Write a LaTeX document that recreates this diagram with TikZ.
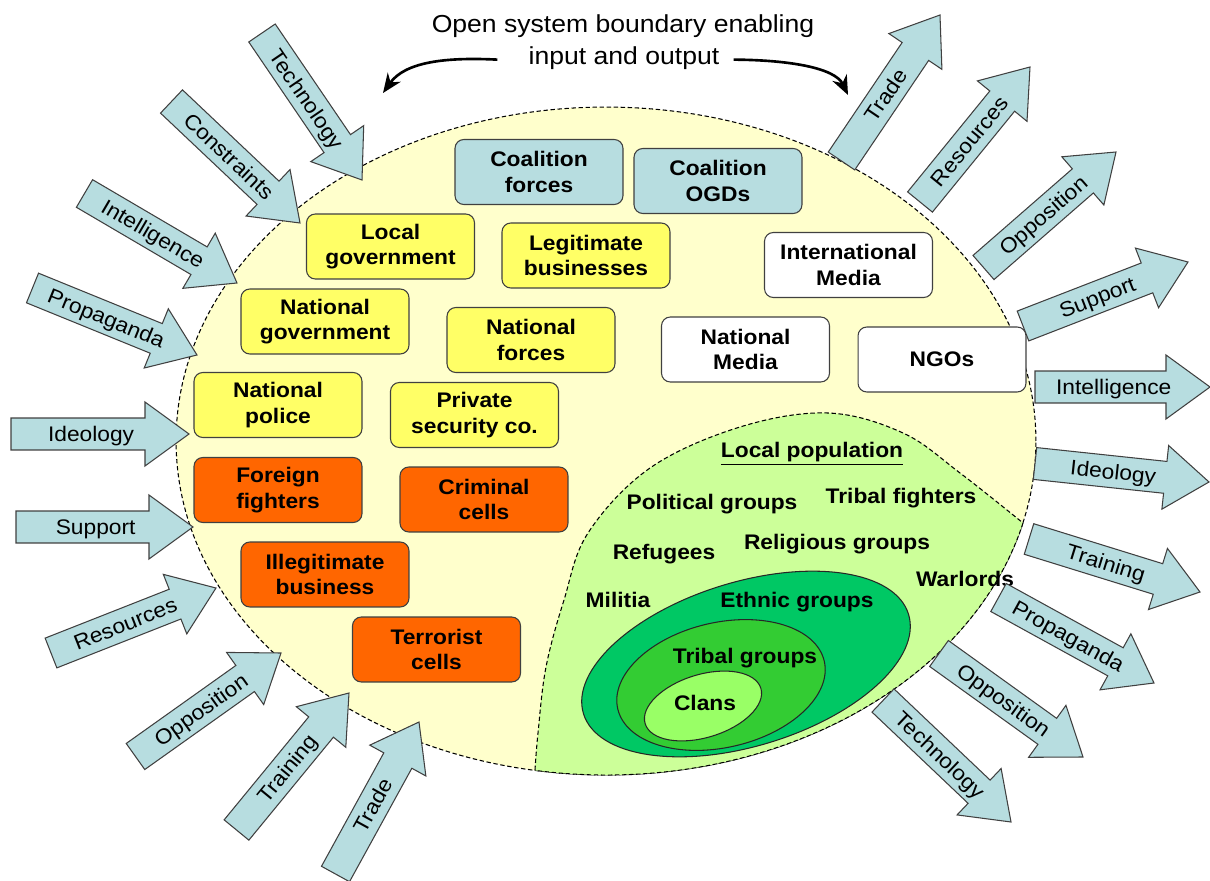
\documentclass[tikz,border=0pt]{standalone}
\usepackage{fontspec}
\setmainfont{Liberation Sans}[FakeStretch=1.08]
\usetikzlibrary{arrows.meta}
\definecolor{ybg}{HTML}{FFFFCC}
\definecolor{gbg}{HTML}{CCFF99}
\definecolor{ethnic}{HTML}{00C864}
\definecolor{tribal}{HTML}{33CC33}
\definecolor{clans}{HTML}{99FF66}
\definecolor{yelbox}{HTML}{FFFF66}
\definecolor{orbox}{HTML}{FF6600}
\definecolor{bluebox}{HTML}{B7DDE0}
\definecolor{bdr}{HTML}{404040}
\newcommand{\boxfont}{\fontsize{12}{14.6}\selectfont\bfseries}
\newcommand{\labfont}{\fontsize{12}{14.6}\selectfont}
\newcommand{\blkarrow}[6]{%
  \pgfmathsetmacro{\arAng}{atan2(#3-#5,#4-#2)}%
  \pgfmathsetmacro{\arLen}{0.02*veclen(#4-#2,#5-#3)}%
  \pgfmathsetmacro{\arHb}{\arLen-0.88}%
  \pgfmathsetmacro{\arLab}{0.45*\arLen}%
  \begin{scope}[shift={(#2,#3)},rotate=\arAng]
    \draw[blkarr] (0cm,-0.32cm) -- (\arHb cm,-0.32cm) -- (\arHb cm,-0.64cm) -- (\arLen cm,0cm) -- (\arHb cm,0.64cm) -- (\arHb cm,0.32cm) -- (0cm,0.32cm) -- cycle;
    \node[arrlab, rotate=\arAng, anchor=base] (#1) at (\arLab cm,-0.15cm) {#6};
  \end{scope}}
\begin{document}
\begin{tikzpicture}[x=0.02cm,y=-0.02cm,
  box/.style={draw=bdr, line width=0.6pt, rounded corners=5pt, minimum width=3.36cm, minimum height=1.3cm, align=center, font=\boxfont, inner sep=2pt},
  ybox/.style={box, fill=yelbox},
  obox/.style={box, fill=orbox},
  bbox/.style={box, fill=bluebox},
  wbox/.style={box, fill=white},
  blkarr/.style={draw=bdr, line width=0.6pt, fill=bluebox},
  arrlab/.style={font=\labfont, inner sep=0pt},
  grp/.style={font=\boxfont, inner sep=0pt, anchor=base},
  bound/.style={draw=black, line width=0.6pt, dash pattern=on 2.5pt off 1.5pt},
  curv/.style={line width=1.5pt, -{Stealth[length=11pt,width=9pt]}}
]
\useasboundingbox (0,0) rectangle (1210,881);

% title
\node[font=\fontsize{14}{16}\selectfont, anchor=base, inner sep=0pt] (t1) at (623,33) {Open system boundary enabling};
\node[font=\fontsize{14}{16}\selectfont, anchor=base, inner sep=0pt] (t2) at (624,65) {input and output};
\coordinate (cl) at (383,93);
\coordinate (cr) at (848,95);
\draw[curv] ([xshift=-0.62cm,yshift=-0.02cm]t2.west) .. controls (445,57) and (405,62) .. (cl);
\draw[curv] ([xshift=0.28cm,yshift=-0.02cm]t2.east) .. controls (790,60) and (835,68) .. (cr);

% system boundary
\path[bound, fill=ybg] (606,441) ellipse [x radius=8.6cm, y radius=6.68cm];

% local population region
\path[bound, fill=gbg] plot[smooth, tension=0.6] coordinates {(535,770) (538,733) (546,667) (564,600) (588,533) (650,468) (740,427) (828,413) (903,433) (960,473) (1023,523)}
  arc[start angle=-14.2, end angle=-99.5, x radius=8.6cm, y radius=6.68cm] -- cycle;

% nested groups
\draw[draw=black!85, line width=0.6pt, fill=ethnic, rotate around={17:(746,664)}] (746,664) ellipse [x radius=3.4cm, y radius=1.64cm];
\draw[draw=black!85, line width=0.6pt, fill=tribal, rotate around={13:(721,685)}] (721,685) ellipse [x radius=2.12cm, y radius=1.25cm];
\draw[draw=black!85, line width=0.6pt, fill=clans, rotate around={17:(703,706)}] (703,706) ellipse [x radius=1.21cm, y radius=0.63cm];

% boxes
\node[bbox] (cf) at (539,172) {Coalition\\forces};
\node[bbox] (cogd) at (718,181) {Coalition\\OGDs};
\node[ybox] (lg) at (390.5,246.5) {Local\\government};
\node[ybox] (lb) at (586,255.5) {Legitimate\\businesses};
\node[wbox] (im) at (848.5,265) {International\\Media};
\node[ybox] (ng) at (325,321.5) {National\\government};
\node[ybox] (nf) at (531,340) {National\\forces};
\node[wbox] (nm) at (745.5,349.5) {National\\Media};
\node[wbox] (ngo) at (942,359.5) {NGOs};
\node[ybox] (np) at (278,405) {National\\police};
\node[ybox] (ps) at (474.5,415) {Private\\security co.};
\node[obox] (ff) at (278,490) {Foreign\\fighters};
\node[obox] (cc) at (484,499.5) {Criminal\\cells};
\node[obox] (ib) at (325,574.5) {Illegitimate\\business};
\node[obox] (tc) at (436.5,649.5) {Terrorist\\cells};

% local population labels
\node[grp] (lp) at (812,458) {\underline{Local population}};
\node[grp] (pg) at (712,510) {Political groups};
\node[grp] (tf) at (901,503) {Tribal fighters};
\node[grp] (rf) at (664,560) {Refugees};
\node[grp] (rg) at (837,549) {Religious groups};
\node[grp] (wl) at (965,586) {Warlords};
\node[grp] (mi) at (618,607) {Militia};
\node[grp] (eg) at (797,607) {Ethnic groups};
\node[grp] (tg) at (745,663) {Tribal groups};
\node[grp] (cl2) at (705,710) {Clans};

% inputs
\blkarrow{in1}{262}{33}{362}{180}{Technology}
\blkarrow{in2}{171.5}{101.5}{300}{223}{Constraints}
\blkarrow{in3}{84.5}{193.5}{237}{283}{Intelligence}
\blkarrow{in4}{32.5}{288}{197}{355}{Propaganda}
\blkarrow{in5}{11}{434}{189}{434}{Ideology}
\blkarrow{in6}{16}{527}{193}{527}{Support}
\blkarrow{in7}{51}{653}{216}{588}{Resources}
\blkarrow{in8}{135.5}{756.5}{281}{653}{Opposition}
\blkarrow{in9}{236.5}{830}{349}{693}{Training}
\blkarrow{in10}{335.5}{874}{419}{722}{Trade}

% outputs
\blkarrow{out1}{841.5}{161}{940}{15}{Trade}
\blkarrow{out2}{920}{202}{1030}{67}{Resources}
\blkarrow{out3}{983.5}{267.5}{1116}{152}{Opposition}
\blkarrow{out4}{1023}{326}{1188}{262}{Support}
\blkarrow{out5}{1035}{387}{1210}{387}{Intelligence}
\blkarrow{out6}{1035}{463.5}{1209}{482}{Ideology}
\blkarrow{out7}{1029}{539}{1200}{592}{Training}
\blkarrow{out8}{998.5}{597.5}{1154}{683}{Propaganda}
\blkarrow{out9}{939}{653.5}{1083}{757}{Opposition}
\blkarrow{out10}{883}{700.5}{1011}{822}{Technology}
\end{tikzpicture}
\end{document}
